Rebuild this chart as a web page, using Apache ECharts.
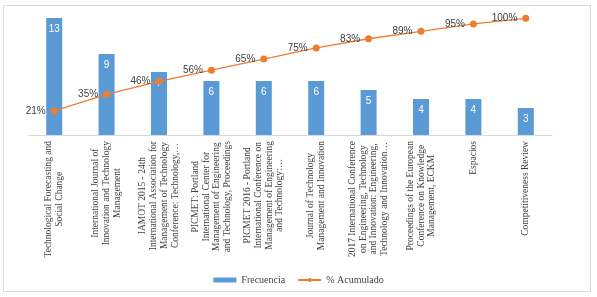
<!DOCTYPE html>
<html lang="es">
<head>
<meta charset="UTF-8">
<title>Frecuencia y % acumulado</title>
<style>
  html, body { margin: 0; padding: 0; background: #fff; }
  #main { width: 597px; height: 297px; }
</style>
</head>
<body>
<div id="main"></div>
<script src="https://cdn.jsdelivr.net/npm/echarts@6/dist/echarts.min.js"></script>
<script>
var fuentes = [
    'Technological Forecasting and\nSocial Change',
    'International Journal of\nInnovation and Technology\nManagement',
    'IAMOT 2015 - 24th\nInternational Association for\nManagement of Technology\nConference: Technology,…',
    'PICMET: Portland\nInternational Center for\nManagement of Engineering\nand Technology, Proceedings',
    'PICMET 2016 - Portland\nInternational Conference on\nManagement of Engineering\nand Technology:…',
    'Journal of Technology\nManagement and Innovation',
    '2017 International Conference\non Engineering, Technology\nand Innovation: Engineering,\nTechnology and Innovation…',
    'Proceedings of the European\nConference on Knowledge\nManagement, ECKM',
    'Espacios',
    'Competitiveness Review'
];
var frecuencia = [13, 9, 7, 6, 6, 6, 5, 4, 4, 3];
var acumulado = [20.6, 34.9, 46.0, 55.6, 65.1, 74.6, 82.5, 88.9, 95.2, 100];

var chart = echarts.init(document.getElementById('main'));

var option = {
    animation: false,
    graphic: [{
        type: 'rect',
        shape: { x: 3.5, y: 5.5, width: 587, height: 286 },
        style: { fill: 'none', stroke: '#d9d9d9', lineWidth: 1 },
        silent: true
    }],
    legend: {
        left: 'center',
        top: 270,
        itemGap: 12,
        itemWidth: 23,
        itemHeight: 5,
        textStyle: { fontFamily: 'Liberation Serif', fontSize: 10, color: '#404040' },
        data: [
            { name: 'Frecuencia', icon: 'rect' },
            { name: '% Acumulado' }
        ]
    },
    grid: { left: 28, right: 45, top: 9, bottom: 162 },
    xAxis: {
        type: 'category',
        data: fuentes,
        axisLine: { lineStyle: { color: '#d9d9d9' } },
        axisTick: { show: false },
        axisLabel: {
            interval: 0,
            rotate: 90,
            margin: 6,
            fontFamily: 'Liberation Serif',
            fontSize: 9.5,
            lineHeight: 10.7,
            color: '#404040',
            formatter: function (v) {
                return v.split('\n').map(function (s) { return '{c|' + s + '}'; }).join('\n');
            },
            rich: {
                c: {
                    align: 'center',
                    fontFamily: 'Liberation Serif',
                    fontSize: 9.5,
                    lineHeight: 10.7,
                    color: '#404040'
                }
            }
        }
    },
    yAxis: [
        { type: 'value', min: 0, max: 14, show: false, splitLine: { show: false } },
        { type: 'value', min: 0, max: 108, show: false, splitLine: { show: false } }
    ],
    series: [
        {
            name: 'Frecuencia',
            type: 'bar',
            barWidth: 16,
            data: frecuencia,
            itemStyle: { color: '#5b9bd5' },
            label: {
                show: true,
                position: 'insideTop',
                distance: 6,
                color: '#ffffff',
                fontFamily: 'Liberation Sans',
                fontSize: 10
            }
        },
        {
            name: '% Acumulado',
            type: 'line',
            yAxisIndex: 1,
            data: acumulado,
            symbol: 'circle',
            symbolSize: 7,
            itemStyle: { color: '#ed7d31' },
            lineStyle: { color: '#ed7d31', width: 1.3 },
            label: {
                show: true,
                position: 'left',
                distance: 5,
                color: '#404040',
                fontFamily: 'Liberation Sans',
                fontSize: 10,
                formatter: function (p) { return Math.round(p.value) + '%'; }
            }
        }
    ]
};

chart.setOption(option);
</script>
</body>
</html>
